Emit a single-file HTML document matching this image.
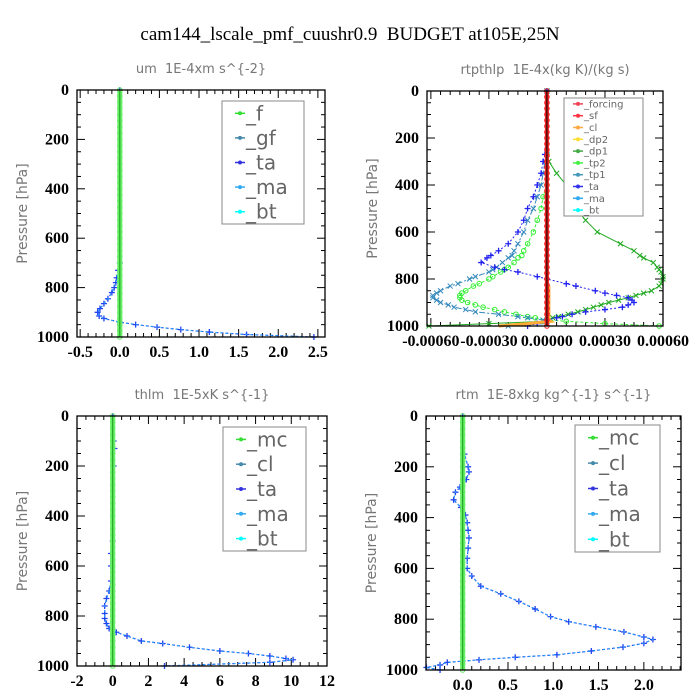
<!DOCTYPE html>
<html><head><meta charset="utf-8"><style>
body{margin:0;background:#fff}
svg{display:block}
text{white-space:pre}
.tl{font-family:"Liberation Serif",serif;font-size:16px;font-weight:bold;fill:#000}
.st{font-family:"DejaVu Sans","Liberation Sans",sans-serif;font-size:13px;fill:#777}
.lg{font-family:"DejaVu Sans","Liberation Sans",sans-serif;fill:#666}
</style></head><body>
<svg id="chart" width="700" height="700">
<text x="350" y="40" text-anchor="middle" font-family="Liberation Serif, serif" font-size="19">cam144_lscale_pmf_cuushr0.9  BUDGET at105E,25N</text>
</svg>
<script>
// ---- data ----
const umP=[0,700,730,760,780,800,820,845,865,885,900,915,925,940,950,960,970,980,990,1000];
const umTa=[0,0,-0.02,-0.04,-0.05,-0.07,-0.1,-0.15,-0.2,-0.25,-0.28,-0.26,-0.2,0,0.2,0.47,0.77,1.13,1.6,2.45];
const rtpP=[0,270,300,350,400,450,500,550,600,650,680,700,710,730,750,760,770,790,800,820,830,850,860,870,880,890,900,910,920,930,940,950,960,965,975,980,990,1000];
const rtpDp1=[0,0,0.00001,0.00005,0.0001,0.00013,0.00015,0.0002,0.00026,0.00038,0.00045,0.00048,0.0005,0.00055,0.00057,0.00058,0.00059,0.0006,0.0006,0.00059,0.00058,0.00054,0.0005,0.00046,0.00042,0.00037,0.00032,0.00028,0.00024,0.0002,0.00016,0.00011,0.00006,0.00003,0,0,-0.0003,-0.00061];
const rtpTp2=[0,0,0,0,0,-0.00002,-0.00003,-0.00005,-0.00007,-0.0001,-0.00012,-0.00013,-0.00015,-0.00017,-0.0002,-0.00022,-0.00024,-0.00028,-0.0003,-0.00035,-0.00038,-0.00042,-0.00044,-0.00045,-0.00045,-0.00044,-0.00041,-0.00037,-0.00033,-0.00027,-0.00022,-0.00016,-0.0001,-0.00006,0,0.0001,0.0003,0.00058];
const rtpTp1=[0,0,-0.00001,-0.00002,-0.00003,-0.00005,-0.00007,-0.0001,-0.00012,-0.00015,-0.00017,-0.00018,-0.0002,-0.00023,-0.00026,-0.00028,-0.0003,-0.00037,-0.0004,-0.00046,-0.0005,-0.00055,-0.00057,-0.00059,-0.00059,-0.00057,-0.00055,-0.00051,-0.00048,-0.00042,-0.00037,-0.00025,-0.00015,-0.0001,-0.00002,0,0,-0.0002];
const rtpTa=[0,-0.00001,-0.00002,-0.00003,-0.00005,-0.00007,-0.0001,-0.00012,-0.00015,-0.0002,-0.00025,-0.00029,-0.00031,-0.00034,-0.00027,-0.00022,-0.00015,-0.00005,0,0.0001,0.00015,0.00025,0.0003,0.00036,0.00042,0.00044,0.00045,0.00042,0.00039,0.0003,0.0002,0.00013,0.00008,0.00005,0,0,-0.00005,-0.0001];
const rtpCl=[0,0,0,0,0,0,0,0,0,0,0,0,0,0,0,0,0,0,0,0,0.00001,0.00001,0.00001,0.00001,0.00001,0.00001,0.00001,0.00001,0.00001,0.00001,0.00001,0.00001,0.00001,0.00001,0.00001,0.00002,-0.0001,-0.00025];
const thP=[0,100,130,200,500,550,600,660,700,730,760,790,810,830,850,865,880,900,910,925,940,950,960,970,975,985,1000];
const thTa=[0,0.05,0.1,0.05,0,-0.1,-0.1,-0.1,-0.2,-0.35,-0.45,-0.45,-0.45,-0.35,-0.2,0.2,0.8,1.6,2.8,4.3,6,7.6,8.8,9.7,10.1,8.8,2.9];
const rtP=[0,150,200,220,250,280,300,330,360,390,420,450,480,520,560,600,630,670,700,730,760,790,810,830,850,870,880,895,910,925,940,950,960,970,980,990,1000];
const rtTa=[0,0.02,0.06,0.07,0.04,-0.03,-0.08,-0.1,-0.02,0.03,0.05,0.06,0.07,0.06,0.05,0.05,0.1,0.2,0.42,0.62,0.8,0.97,1.17,1.47,1.78,2.0,2.1,2.0,1.77,1.42,1.04,0.58,0.18,-0.17,-0.25,-0.4,-0.25];
const lvls=[0,25,50,75,100,125,150,175,200,225,250,275,300,325,350,375,400,425,450,475,500,525,550,575,600,625,650,675,700,725,750,775,800,825,850,875,900,925,950,975,1000];
const zeros=lvls.map(()=>0);
const yTicks=[0,200,400,600,800,1000];
const ticksA=[-0.5,0.0,0.5,1.0,1.5,2.0,2.5];
const labelsA=["-0.5","0.0","0.5","1.0","1.5","2.0","2.5"];
const ticksB=[-0.0006,-0.0003,0,0.0003,0.0006];
const labelsB=["-0.00060","-0.00030","0.00000","0.00030","0.00060"];
const ticksC=[-2,0,2,4,6,8,10,12];
const labelsC=["-2","0","2","4","6","8","10","12"];
const ticksD=[0,0.5,1.0,1.5,2.0];
const labelsD=["0.0","0.5","1.0","1.5","2.0"];

const NS="http://www.w3.org/2000/svg";
const svg=document.getElementById('chart');
function mk(tag,at,par){const e=document.createElementNS(NS,tag);for(const k in at)e.setAttribute(k,at[k]);(par||svg).appendChild(e);return e;}

function panel(cfg){
  const g=mk('g',{});
  
  
  const sx=v=>cfg.L+(v-cfg.x0)/(cfg.x1-cfg.x0)*(cfg.R-cfg.L);
  const sy=p=>cfg.T+p/1000*(cfg.B-cfg.T);
  const st=mk('text',{x:(cfg.L+cfg.R)/2,y:cfg.T-17,'text-anchor':'middle',class:'st'},g);
  st.textContent=cfg.title;
  
  
  const yl=mk('text',{x:0,y:0,'text-anchor':'middle',class:'st',transform:`translate(${cfg.L-50},${(cfg.T+cfg.B)/2}) rotate(-90)`},g);
  yl.style.fontSize='14px';
  yl.textContent='Pressure [hPa]';
  
  
  for(let p=0;p<=1000;p+=50){
    const len=p%200===0?8:4;const y=sy(p);
    mk('line',{x1:cfg.L,x2:cfg.L+len,y1:y,y2:y,stroke:'#000'},g);
    mk('line',{x1:cfg.R,x2:cfg.R-len,y1:y,y2:y,stroke:'#000'},g);
  }
  yTicks.forEach(p=>{const t=mk('text',{x:cfg.L-8,y:sy(p)+5,'text-anchor':'end',class:'tl'},g);t.textContent=p;
    });
  const step=(cfg.ticks[1]-cfg.ticks[0])/cfg.minor;
  for(let v=cfg.ticks[0]-step*cfg.minor;v<=cfg.x1+1e-12;v+=step){
    if(v<cfg.x0-1e-12)continue;
    const k=Math.round((v-cfg.ticks[0])/step);const len=(k%cfg.minor===0)?8:4;const x=sx(v);
    mk('line',{x1:x,x2:x,y1:cfg.B,y2:cfg.B-len,stroke:'#000'},g);
    mk('line',{x1:x,x2:x,y1:cfg.T,y2:cfg.T+len,stroke:'#000'},g);
  }
  cfg.ticks.forEach((v,i)=>{const t=mk('text',{x:sx(v),y:cfg.B+20,'text-anchor':'middle',class:'tl'},g);t.textContent=cfg.labels[i];
    });
  cfg.series.forEach(s=>{
    const pts=s.p.map((p,i)=>sx(s.v[i]).toFixed(1)+','+sy(p).toFixed(1)).join(' ');
    const pl=mk('polyline',{points:pts,fill:'none',stroke:s.c,'stroke-width':s.w||1,'stroke-dasharray':s.d||'none'},g);
    
    
    s.p.forEach((p,i)=>{const x=sx(s.v[i]),y=sy(p);
      if(s.m==='o')mk('circle',{cx:x,cy:y,r:2.3,fill:'none',stroke:s.c},g);
      else if(s.m==='x'){mk('path',{d:`M${x-2.5},${y-2.5}L${x+2.5},${y+2.5}M${x-2.5},${y+2.5}L${x+2.5},${y-2.5}`,stroke:s.c},g);}
      else if(s.m==='+'){mk('path',{d:`M${x-3},${y}L${x+3},${y}M${x},${y-3}L${x},${y+3}`,stroke:s.c,'stroke-width':1.3},g);}
    });
  });
  mk('rect',{x:cfg.L,y:cfg.T,width:cfg.R-cfg.L,height:cfg.B-cfg.T,fill:'none',stroke:'#000','stroke-width':1.3},g);
  const lg=cfg.leg;
  const box=mk('rect',{x:lg.x,y:lg.y,width:lg.w,height:lg.h,fill:'#fff',stroke:'#888'},g);
  
  
  const dy=lg.h/lg.items.length;
  lg.items.forEach((it,i)=>{const y=lg.y+dy*(i+0.5);
    mk('line',{x1:lg.x+lg.lx-5,x2:lg.x+lg.lx+5,y1:y,y2:y,stroke:it[1],'stroke-width':1.5},g);
    mk('circle',{cx:lg.x+lg.lx,cy:y,r:2,fill:it[1]},g);
    const t=mk('text',{x:lg.x+lg.lx+6,y:y+lg.fs*0.35,class:'lg','font-size':lg.fs},g);t.textContent=it[0];
    });
}
const bandA=[{n:'f',p:lvls,v:zeros,c:'#66ee66',w:5,m:'o'},{n:'f-line',p:lvls,v:zeros,c:'#1a9a1a',w:1}];
panel({name:'panel-um',title:'um  1E-4xm s^{-2}',L:77,R:325,T:90,B:337,x0:-0.54,x1:2.59,ticks:ticksA,labels:labelsA,minor:5,
  series:[{n:'ta',p:umP,v:umTa,c:'#2244ee',w:1.2,d:'3,2',m:'+'},{n:'bt',p:umP,v:umTa,c:'#22aaff',w:1,d:'2,3'}].concat(bandA),
  leg:{x:222,y:101,w:82,h:123,fs:20,lx:18,items:[['_f','#33dd33'],['_gf','#4488aa'],['_ta','#3333dd'],['_ma','#33aaee'],['_bt','#00ffff']]}});
panel({name:'panel-rtpthlp',title:'rtpthlp  1E-4x(kg K)/(kg s)',L:427,R:663,T:91,B:326,x0:-0.00062,x1:0.0006,ticks:ticksB,labels:labelsB,minor:6,
  series:[{n:'dp1',p:rtpP,v:rtpDp1,c:'#22aa22',w:1,m:'x'},{n:'tp2',p:rtpP,v:rtpTp2,c:'#33ee33',w:1,d:'3,2',m:'o'},
   {n:'tp1',p:rtpP,v:rtpTp1,c:'#3388bb',w:1,d:'6,2,2,2',m:'x'},{n:'ta',p:rtpP,v:rtpTa,c:'#2222ee',w:1,d:'2,2',m:'+'},
   {n:'cl',p:rtpP,v:rtpCl,c:'#ffaa33',w:3},{n:'forcing',p:lvls,v:zeros,c:'#ee2222',w:4,m:'o'},{n:'sf',p:lvls,v:zeros,c:'#000',w:1}],
  leg:{x:564,y:98,w:79,h:118,fs:10,lx:14,items:[['_forcing','#ee4455'],['_sf','#ff3344'],['_cl','#ffaa44'],['_dp2','#ffdd33'],['_dp1','#44aa44'],['_tp2','#44ee44'],['_tp1','#4499bb'],['_ta','#3333ee'],['_ma','#33aaee'],['_bt','#00ffff']]}});
panel({name:'panel-thlm',title:'thlm  1E-5xK s^{-1}',L:77,R:327,T:416,B:666,x0:-2,x1:12,ticks:ticksC,labels:labelsC,minor:4,
  series:[{n:'ta',p:thP,v:thTa,c:'#2244ee',w:1.2,d:'3,2',m:'+'},{n:'bt',p:thP,v:thTa,c:'#22aaff',w:1,d:'2,3'}].concat(bandA),
  leg:{x:223,y:427,w:83,h:124,fs:20,lx:18,items:[['_mc','#33dd33'],['_cl','#4488aa'],['_ta','#3333dd'],['_ma','#33aaee'],['_bt','#00ffff']]}});
panel({name:'panel-rtm',title:'rtm  1E-8xkg kg^{-1} s^{-1}',L:426,R:681,T:416,B:670,x0:-0.405,x1:2.41,ticks:ticksD,labels:labelsD,minor:5,
  series:[{n:'ta',p:rtP,v:rtTa,c:'#2244ee',w:1.2,d:'3,2',m:'+'},{n:'bt',p:rtP,v:rtTa,c:'#22aaff',w:1,d:'2,3'}].concat(bandA),
  leg:{x:575,y:425,w:85,h:127,fs:20,lx:18,items:[['_mc','#33dd33'],['_cl','#4488aa'],['_ta','#3333dd'],['_ma','#33aaee'],['_bt','#00ffff']]}});
</script>
</body></html>
